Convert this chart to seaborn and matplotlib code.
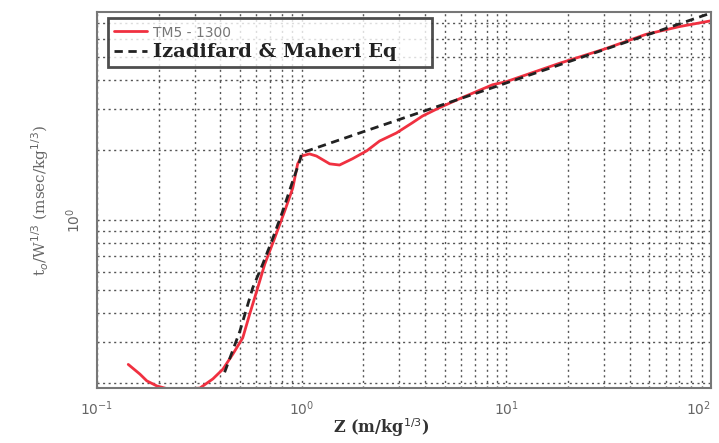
import numpy as np
import matplotlib
matplotlib.use("Agg")
import matplotlib.pyplot as plt
import seaborn as sns
from matplotlib.ticker import LogLocator, NullFormatter

# TM5-1300 curve
tm5_z = [0.142, 0.162, 0.175, 0.196, 0.219, 0.269, 0.318, 0.368, 0.412, 0.461,
         0.515, 0.557, 0.603, 0.660, 0.738, 0.826, 0.904, 0.955, 1.0, 1.09,
         1.18, 1.37, 1.53, 1.77, 2.08, 2.40, 2.90, 3.47, 3.89, 4.71,
         5.9, 8.55, 10.0, 18.2, 30.0, 48.0, 70.0, 100.0]
tm5_t = [0.24, 0.218, 0.204, 0.194, 0.189, 0.188, 0.190, 0.208, 0.229, 0.266,
         0.312, 0.395, 0.496, 0.647, 0.837, 1.093, 1.37, 1.74, 1.88, 1.92,
         1.88, 1.74, 1.72, 1.83, 1.98, 2.18, 2.36, 2.61, 2.79, 3.03,
         3.31, 3.80, 3.92, 4.70, 5.40, 6.25, 6.75, 7.15]

# Izadifard & Maheri equation curve
eq_z = [0.42, 0.499, 0.576, 0.645, 0.723, 0.808, 0.904, 0.978, 1.0,
        2.0, 4.0, 10.0, 20.0, 40.0, 100.0]
eq_t = [0.222, 0.334, 0.511, 0.647, 0.837, 1.093, 1.47, 1.79, 1.94,
        2.39, 2.94, 3.87, 4.76, 5.86, 7.72]

x_ticks = [0.1, 1, 10, 100]
x_tick_labels = ["$10^{-1}$", "$10^{0}$", "$10^{1}$", "$10^{2}$"]

sns.set_theme(style="white")
fig = plt.figure(figsize=(7.19, 4.43), dpi=100)
ax = fig.add_axes([0.135, 0.124, 0.854, 0.849])

sns.lineplot(x=tm5_z, y=tm5_t, ax=ax, color="#f03040", linewidth=2.0,
             label="TM5 - 1300", sort=False, estimator=None)
sns.lineplot(x=eq_z, y=eq_t, ax=ax, color="#222222", linewidth=2.0,
             linestyle=(0, (3, 2)), label="Izadifard & Maheri Eq",
             sort=False, estimator=None)

ax.set_xscale("log")
ax.set_yscale("log")
ax.set_xlim(0.1, 100)
ax.set_ylim(0.19, 7.8)

ax.set_xticks(x_ticks, x_tick_labels)
ax.xaxis.set_minor_locator(LogLocator(base=10, subs=np.arange(2, 10)))
ax.yaxis.set_major_locator(LogLocator(base=10))
ax.yaxis.set_minor_locator(LogLocator(base=10, subs=np.arange(2, 10)))
ax.xaxis.set_minor_formatter(NullFormatter())
ax.yaxis.set_minor_formatter(NullFormatter())

ax.grid(True, which="both", color="#555555", linestyle=(0, (1.5, 2.5)), linewidth=1.0)
ax.tick_params(axis="both", which="both", labelsize=10, labelcolor="#666666",
               length=0)
ax.tick_params(axis="x", pad=8)
ax.tick_params(axis="y", pad=10)
for lab in ax.get_yticklabels():
    lab.set_rotation(90)
    lab.set_va("center")
ax.get_xticklabels()[-1].set_ha("right")

for s in ax.spines.values():
    s.set_color("#777777")
    s.set_linewidth(1.5)

ax.set_xlabel("Z (m/kg$^{1/3}$)", fontsize=11.5, family="DejaVu Serif",
              fontweight="bold", color="#333333")
ax.xaxis.set_label_coords(0.463, -0.075)
ax.set_ylabel("t$_o$/W$^{1/3}$ (msec/kg$^{1/3}$)", fontsize=11,
              family="DejaVu Serif", color="#666666", labelpad=10)

leg = ax.legend(loc="upper left", bbox_to_anchor=(0.018, 0.5, 0.528, 0.484),
                mode="expand", frameon=True, fancybox=False, fontsize=14,
                borderpad=0.3, handlelength=1.7, handletextpad=0.3,
                labelspacing=0.15, borderaxespad=0)
leg.get_frame().set_edgecolor("#222222")
leg.get_frame().set_linewidth(2.0)
t1, t2 = leg.get_texts()
t1.set_fontsize(10)
t1.set_color("#777777")
t2.set_family("DejaVu Serif")
t2.set_fontweight("bold")
t2.set_color("#222222")

fig.savefig("out.png", dpi=100)
